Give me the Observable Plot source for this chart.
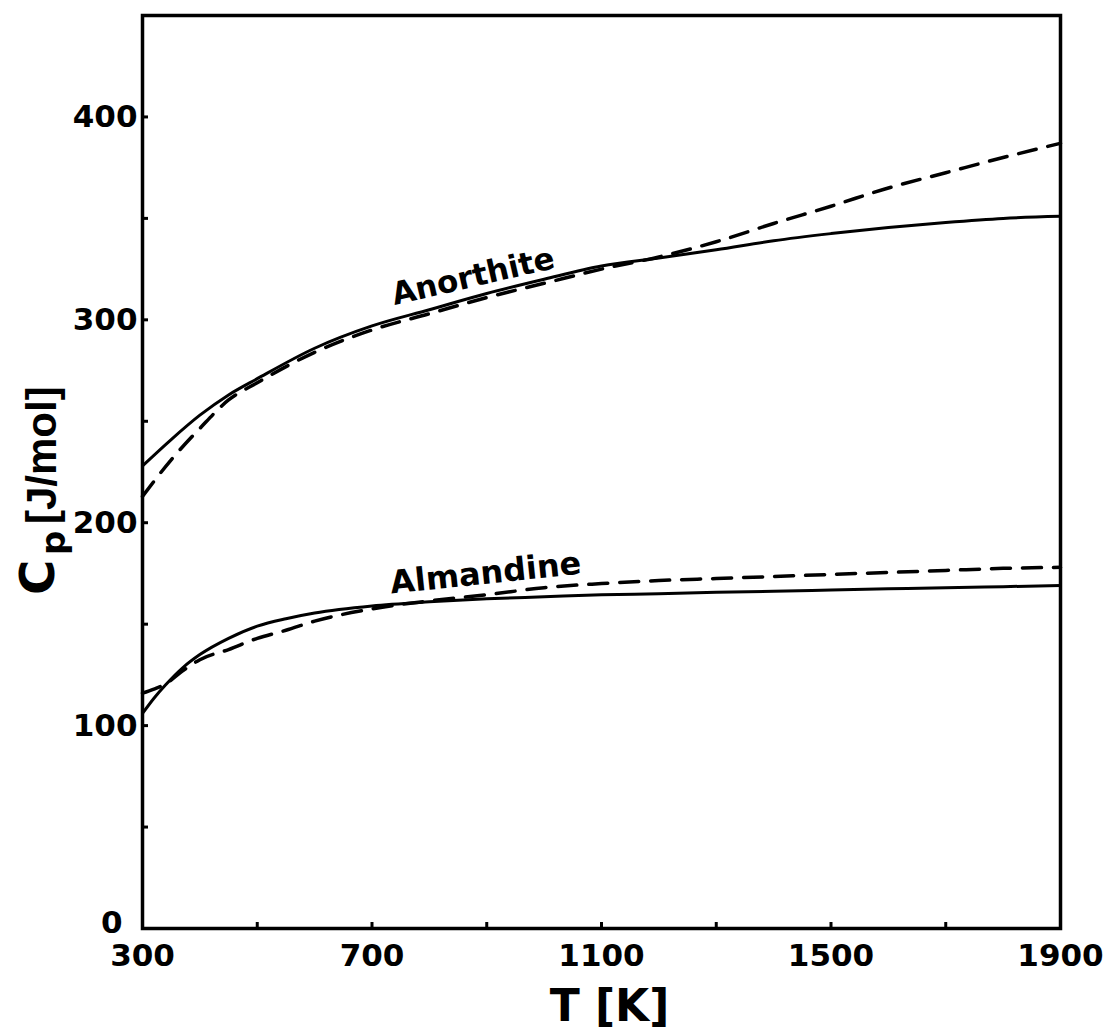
<!DOCTYPE html>
<html>
<head>
<meta charset="utf-8">
<script src="https://cdn.jsdelivr.net/npm/d3@7"></script>
<script src="https://cdn.jsdelivr.net/npm/@observablehq/plot@0.6"></script>
<style>
  body { margin: 0; background: #fff; }
  #chart svg { display: block; }
</style>
</head>
<body>
<div id="chart"></div>
<script>
// Heat capacity Cp [J/mol] versus temperature T [K]
// Solid line: measured curve, dashed line: model curve.

const anorthiteT = [300, 350, 400, 450, 500, 600, 700, 800, 900, 1000, 1100, 1200, 1300, 1400, 1500, 1600, 1700, 1800, 1900];
const anorthiteSolid = [228, 241, 253, 263, 271, 286, 297, 305, 313, 320, 326.5, 330.5, 334.5, 339, 342.5, 345.5, 348, 350, 351];
const anorthiteDashed = [213, 231, 246.5, 260.5, 269, 284, 295, 303, 311, 318, 325, 331, 338.5, 347.5, 356, 365, 372.5, 380, 387];

const almandineT = [300, 320, 340, 370, 400, 450, 500, 550, 600, 700, 800, 900, 1000, 1100, 1200, 1300, 1400, 1500, 1600, 1700, 1800, 1900];
const almandineSolid = [106, 113.5, 120, 128.5, 135, 143, 149, 152.7, 155.5, 159, 161, 162.5, 163.5, 164.5, 165, 165.7, 166.2, 166.8, 167.4, 168, 168.5, 169];
const almandineDashed = [116, 118, 120.5, 127, 132.5, 137.5, 143, 147, 151.5, 157.5, 161.5, 164.5, 168, 170, 171.5, 172.5, 173.5, 174.5, 175.5, 176.5, 177.5, 178];

const xTickLabels = [300, 700, 1100, 1500, 1900];
const xMinorTicks = [500, 700, 900, 1100, 1300, 1500, 1700];
const yTickLabels = [100, 200, 300, 400];
const yOriginLabel = [0];
const yMinorTicks = [50, 100, 150, 200, 250, 300, 350, 400];

const curveLabels = [
  {name: "Anorthite", T: 880, cp: 316.5, angle: -13, size: 31},
  {name: "Almandine", T: 900, cp: 170, angle: -6, size: 32}
];

const toRows = (ts, vs) => ts.map((t, i) => ({T: t, cp: vs[i]}));
const plain = d => String(d);

const chart = Plot.plot({
  width: 1112,
  height: 1030,
  marginLeft: 142,
  marginRight: 52,
  marginTop: 15,
  marginBottom: 102,
  style: {fontFamily: "DejaVu Sans", fontWeight: "bold", color: "#000", background: "#fff"},
  x: {domain: [300, 1900]},
  y: {domain: [0, 450]},
  marks: [
    Plot.frame({stroke: "#000", strokeWidth: 3.5}),
    Plot.axisX({ticks: xMinorTicks, tickSize: -6, strokeWidth: 3, tickFormat: () => "", label: null}),
    Plot.axisY({ticks: yMinorTicks, tickSize: -6, strokeWidth: 3, tickFormat: () => "", label: null}),
    Plot.axisX({ticks: xTickLabels, tickSize: 0, tickPadding: 15, fontSize: 31, tickFormat: plain, label: null}),
    Plot.axisY({ticks: yTickLabels, tickSize: 0, tickPadding: 5, fontSize: 31, tickFormat: plain, label: null}),
    Plot.axisY({ticks: yOriginLabel, tickSize: 0, tickPadding: 20, dy: -5, fontSize: 31, tickFormat: plain, label: null}),

    Plot.line(toRows(anorthiteT, anorthiteSolid), {x: "T", y: "cp", curve: "monotone-x", stroke: "#000", strokeWidth: 3}),
    Plot.line(toRows(anorthiteT, anorthiteDashed), {x: "T", y: "cp", curve: "monotone-x", stroke: "#000", strokeWidth: 3.5, strokeDasharray: "18,12"}),
    Plot.line(toRows(almandineT, almandineSolid), {x: "T", y: "cp", curve: "monotone-x", stroke: "#000", strokeWidth: 3}),
    Plot.line(toRows(almandineT, almandineDashed), {x: "T", y: "cp", curve: "monotone-x", stroke: "#000", strokeWidth: 3.5, strokeDasharray: "19,12"}),

    ...curveLabels.map(d => Plot.text([d], {
      x: "T", y: "cp", text: "name", rotate: d.angle, fontSize: d.size,
      lineAnchor: "bottom", textAnchor: "middle", fill: "#000"
    })),

    // x axis title
    Plot.text(["T [K]"], {text: d => d, frameAnchor: "bottom", dy: 92, dx: 8, fontSize: 44, lineAnchor: "bottom", fill: "#000"}),

    // y axis title: C with subscript p, then the unit
    Plot.text(["C"], {text: d => d, frameAnchor: "left", rotate: -90, textAnchor: "start", lineAnchor: "bottom", dx: -89, dy: 123, fontSize: 48, fill: "#000"}),
    Plot.text(["p"], {text: d => d, frameAnchor: "left", rotate: -90, textAnchor: "start", lineAnchor: "bottom", dx: -78, dy: 83, fontSize: 34, fill: "#000"}),
    Plot.text(["[J/mol]"], {text: d => d, frameAnchor: "left", rotate: -90, textAnchor: "start", lineAnchor: "bottom", dx: -87, dy: 52, fontSize: 42, fontFamily: "Liberation Sans", fill: "#000"})
  ]
});

document.getElementById("chart").appendChild(chart);
</script>
</body>
</html>
